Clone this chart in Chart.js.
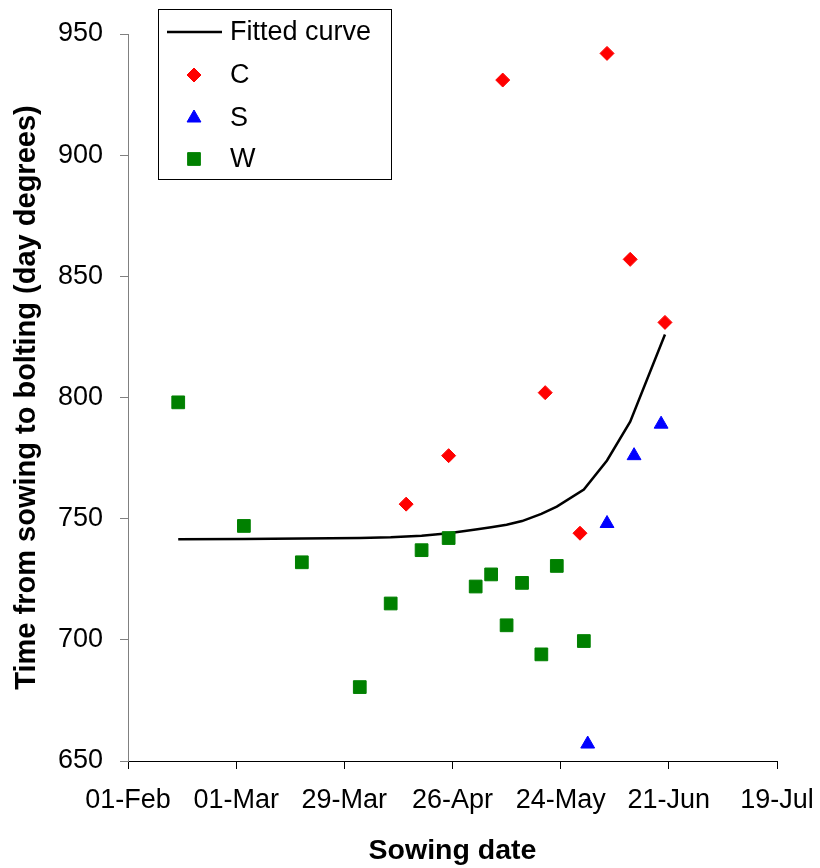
<!DOCTYPE html>
<html>
<head>
<meta charset="utf-8">
<title>Time from sowing to bolting</title>
<script src="https://cdn.jsdelivr.net/npm/chart.js@4.4.1/dist/chart.umd.min.js"></script>
<style>
  html, body { margin: 0; padding: 0; background: #fff; }
  #wrap { width: 820px; height: 868px; }
</style>
</head>
<body>
<div id="wrap"><canvas id="bolting-chart" width="820" height="868"></canvas></div>
<script>
/* Sowing date vs time to bolting. x values are days after 01-Feb. */

const dateTicks = ['01-Feb', '01-Mar', '29-Mar', '26-Apr', '24-May', '21-Jun', '19-Jul'];

// C
const cDays = [72, 83, 97, 108, 117, 124, 130, 139];
const cValues = [756, 776, 931, 802, 744, 942, 857, 831];

// S
const sDays = [119, 124, 131, 138];
const sValues = [657, 748, 776, 789];

// W
const wDays = [13, 30, 45, 60, 68, 76, 83, 90, 94, 98, 102, 107, 111, 118];
const wValues = [798, 747, 732, 680.5, 715, 737, 742, 722, 727, 706, 723.5, 694, 730.5, 699.5];

// Fitted curve
const curveDays = [13, 30, 45, 60, 68, 76, 83, 90, 94, 98, 102, 107, 111, 118, 124, 130, 139];
const curveValues = [741.5, 741.6, 741.8, 742, 742.3, 743, 744, 745.5, 746.5, 747.5, 749, 752, 755, 762, 774, 790, 826];

const toPoints = (xs, ys) => xs.map((x, i) => ({ x: x, y: ys[i] }));

Chart.defaults.font.family = '"Liberation Sans", Arial, sans-serif';
Chart.defaults.color = '#000';

// legend drawn as a framed box over the upper left of the plot
const boxLegend = {
  id: 'boxLegend',
  afterDraw: function(chart) {
    const ctx = chart.ctx;
    const rows = [32, 75, 118, 159];
    ctx.save();
    ctx.fillStyle = '#fff';
    ctx.fillRect(158, 9, 233, 170);
    ctx.strokeStyle = '#000';
    ctx.lineWidth = 1;
    ctx.strokeRect(158.5, 9.5, 233, 170);

    ctx.font = '27px "Liberation Sans", Arial, sans-serif';
    ctx.textBaseline = 'middle';
    ctx.textAlign = 'left';

    chart.data.datasets.forEach((ds, i) => {
      const y = rows[i];
      if (ds.showLine) {
        ctx.strokeStyle = ds.borderColor;
        ctx.lineWidth = ds.borderWidth;
        ctx.beginPath();
        ctx.moveTo(167, y);
        ctx.lineTo(222, y);
        ctx.stroke();
      } else {
        ctx.fillStyle = ds.pointBackgroundColor;
        ctx.strokeStyle = ds.pointBorderColor;
        ctx.lineWidth = 1;
        Chart.helpers.drawPoint(ctx, {
          pointStyle: ds.pointStyle,
          radius: ds.pointRadius,
          rotation: 0,
          borderWidth: 1
        }, 194, y);
      }
      ctx.fillStyle = '#000';
      ctx.fillText(ds.label, 230, y + 1);
    });
    ctx.restore();
  }
};

new Chart(document.getElementById('bolting-chart'), {
  type: 'scatter',
  data: {
    datasets: [
      {
        label: 'Fitted curve',
        data: toPoints(curveDays, curveValues),
        showLine: true,
        borderColor: '#000',
        borderWidth: 2.5,
        pointRadius: 0,
        tension: 0,
        order: 10
      },
      {
        label: 'C',
        data: toPoints(cDays, cValues),
        pointStyle: 'rectRot',
        pointRadius: 7,
        pointBackgroundColor: '#ff0000',
        pointBorderColor: '#ff0000',
        pointBorderWidth: 1,
        order: 3
      },
      {
        label: 'S',
        data: toPoints(sDays, sValues),
        pointStyle: 'triangle',
        pointRadius: 8,
        pointBackgroundColor: '#0000ff',
        pointBorderColor: '#0000ff',
        pointBorderWidth: 1,
        order: 2
      },
      {
        label: 'W',
        data: toPoints(wDays, wValues),
        pointStyle: 'rect',
        pointRadius: 9,
        pointBackgroundColor: '#008000',
        pointBorderColor: '#008000',
        pointBorderWidth: 1,
        order: 1
      }
    ]
  },
  options: {
    responsive: false,
    animation: false,
    layout: { padding: { left: 0, top: 34, right: 43, bottom: 0 } },
    plugins: {
      legend: { display: false },
      tooltip: { enabled: false }
    },
    scales: {
      x: {
        type: 'linear',
        min: 0,
        max: 168,
        afterFit: function(scale) {
          scale.height = 107;
          scale.paddingLeft = 0;
          scale.paddingRight = 0;
        },
        ticks: {
          stepSize: 28,
          padding: 15,
          font: { size: 27 },
          color: '#000',
          callback: v => dateTicks[Math.round(v / 28)]
        },
        grid: { drawOnChartArea: false, drawTicks: true, tickLength: 8, color: '#000' },
        border: { display: true, color: '#000', width: 1 },
        title: {
          display: true,
          text: 'Sowing date',
          font: { size: 28.5, weight: 'bold' },
          color: '#000',
          padding: { top: 0, bottom: 0 }
        }
      },
      y: {
        min: 650,
        max: 950,
        afterFit: function(scale) { scale.width = 128; },
        ticks: {
          stepSize: 50,
          padding: 17,
          font: { size: 27 },
          color: '#000'
        },
        grid: { drawOnChartArea: false, drawTicks: true, tickLength: 8, color: '#808080' },
        border: { display: true, color: '#808080', width: 1 },
        title: {
          display: true,
          text: 'Time from sowing to bolting (day degrees)',
          font: { size: 29, weight: 'bold' },
          color: '#000',
          padding: { top: 10, bottom: 0 }
        }
      }
    }
  },
  plugins: [boxLegend]
});
</script>
</body>
</html>
